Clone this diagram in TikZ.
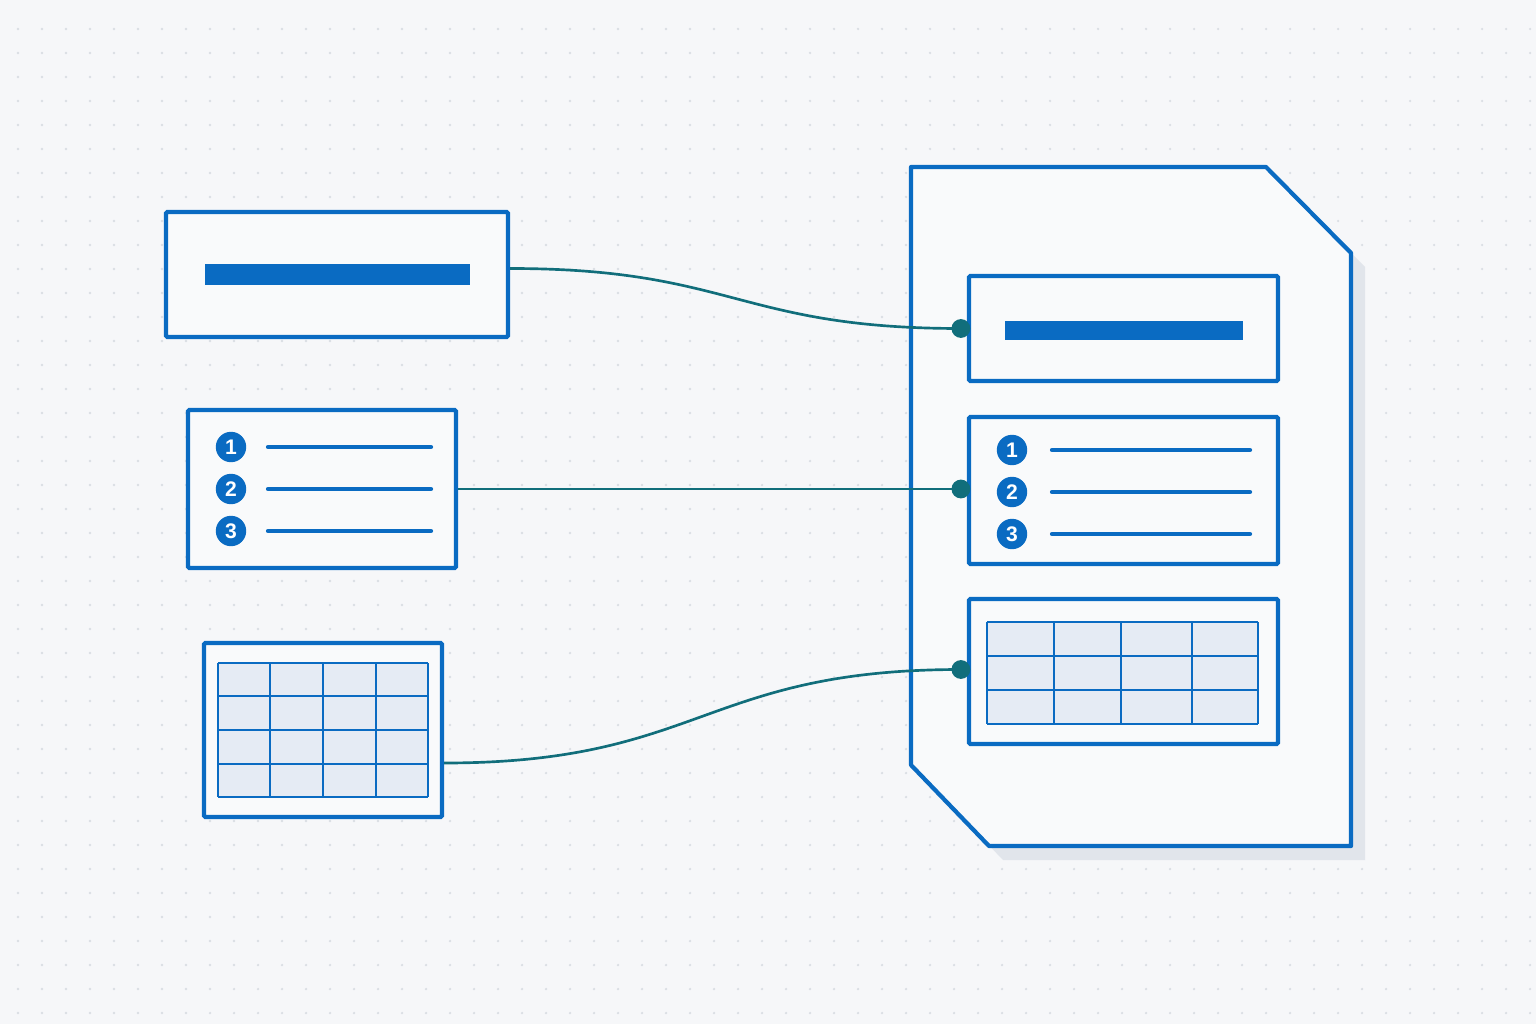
\documentclass[tikz,border=0pt]{standalone}
\usepackage{fontspec}
\setsansfont{Liberation Sans}
\usepackage{xcolor}
\usepackage{tikz}
\usetikzlibrary{positioning,fit,calc}

\definecolor{paper}{HTML}{F6F7F9}
\definecolor{paperhi}{HTML}{F9FAFB}
\definecolor{griddot}{HTML}{DADEE4}
\definecolor{docblue}{HTML}{0A6BC2}
\definecolor{cellfill}{HTML}{E5EBF4}
\definecolor{linkteal}{HTML}{116E7B}
\definecolor{shadowgray}{HTML}{E1E5EB}

\begin{document}
\begin{tikzpicture}[
    x=0.025cm, y=-0.025cm,
    box/.style={draw=docblue, line width=3pt, fill=paperhi, rounded corners=1pt, inner sep=0pt},
    bar/.style={fill=docblue, inner sep=0pt},
    badge/.style={circle, fill=docblue, text=white, minimum size=0.76cm, inner sep=0pt,
        font=\sffamily\bfseries\fontsize{15}{15}\selectfont},
    listline/.style={docblue, line width=3pt, line cap=round},
    gridline/.style={docblue, line width=2pt},
    link/.style={linkteal, line width=1.9pt},
    enddot/.style={circle, fill=linkteal, minimum size=0.47cm, inner sep=0pt}
]

% paper and dot grid
\fill[paper] (0,0) rectangle (1536,1024);
\foreach \gx in {18,42,...,1530}
  \foreach \gy in {29,53,...,1020}
    \fill[griddot] (\gx,\gy) circle (0.9pt);

% document outline with shadow
\fill[shadowgray, shift={(14,14)}] (911,167) -- (1266,167) -- (1351,253) -- (1351,846) -- (989,846) -- (911,765) -- cycle;
\draw[docblue, line width=3pt, fill=paperhi, line join=round]
  (911,167) -- (1266,167) -- (1351,253) -- (1351,846) -- (989,846) -- (911,765) -- cycle;

% left: title block
\node[box, fit={(166,212) (508,337)}] (titleL) {};
\node[bar, fit={(205,264) (470,285)}] (titleBarL) {};

% left: numbered list
\node[box, fit={(188,410) (456,568)}] (listL) {};
\foreach \n/\yy in {1/447, 2/489, 3/531} {
  \node[badge] (numL\n) at (231,\yy) {\n};
  \draw[listline] (268,\yy) -- (431,\yy);
}

% left: table
\node[box, fit={(204,643) (442,817)}] (tableL) {};
\fill[cellfill] (218,663) rectangle (428,797);
\foreach \xx in {218,270,323,376,428}
  \draw[gridline] (\xx,663) -- (\xx,797);
\foreach \yy in {663,696,730,764,797}
  \draw[gridline] (218,\yy) -- (428,\yy);

% right: title block
\node[box, fit={(969,276) (1278,381)}] (titleR) {};
\node[bar, fit={(1005,321) (1243,340)}] (titleBarR) {};

% right: numbered list
\node[box, fit={(969,417) (1278,564)}] (listR) {};
\foreach \n/\yy in {1/450, 2/492, 3/534} {
  \node[badge] (numR\n) at (1012,\yy) {\n};
  \draw[listline] (1052,\yy) -- (1250,\yy);
}

% right: table
\node[box, fit={(969,599) (1278,744)}] (tableR) {};
\fill[cellfill] (987,622) rectangle (1258,724);
\foreach \xx in {987,1054,1121,1192,1258}
  \draw[gridline] (\xx,622) -- (\xx,724);
\foreach \yy in {622,656,690,724}
  \draw[gridline] (987,\yy) -- (1258,\yy);

% connectors
\coordinate (listIn) at ($(listR.west)+(-6,0)$);
\node[enddot] (dotTitle) at ($(titleR.west)+(-6,0)$) {};
\node[enddot] (dotList) at (listIn |- listL.east) {};
\node[enddot] (dotTable) at ($(tableR.west)+(-6,-2)$) {};
\coordinate (outTitle) at ($(titleL.east)+(0,-6)$);
\coordinate (outTable) at ($(tableL.east)+(0,33)$);

\draw[link] (outTitle) to[out=0, in=180, looseness=1.25] (dotTitle.center);
\draw[link] (listL.east) -- (dotList.center);
\draw[link] (outTable) to[out=0, in=180, looseness=1.25] (dotTable.center);

\end{tikzpicture}
\end{document}
